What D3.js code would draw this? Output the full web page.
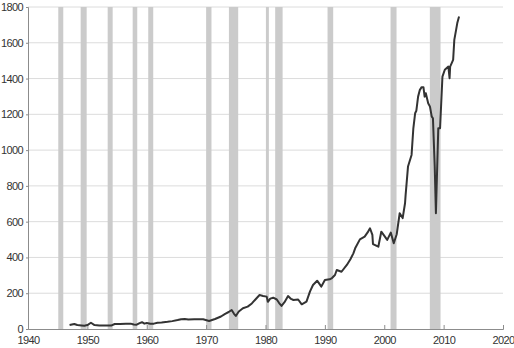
<!DOCTYPE html>
<html>
<head>
<meta charset="utf-8">
<script src="https://cdn.jsdelivr.net/npm/d3@7"></script>
<style>
  html, body { margin: 0; padding: 0; background: #fff; }
  svg text { font-family: "Liberation Sans", Arial, sans-serif; font-size: 11px; letter-spacing: -0.6px; fill: #333; }
</style>
</head>
<body>
<svg id="chart" width="514" height="348"></svg>
<script>
'use strict';

// recession periods (decimal years)
const recessionStart = [1945.1, 1948.87, 1953.42, 1957.63, 1960.25, 1970.0, 1973.84, 1980.07, 1981.63, 1990.45, 2001.06, 2007.68];
const recessionEnd   = [1945.94, 1949.88, 1954.26, 1958.4, 1961.09, 1970.9, 1975.4, 1980.57, 1982.88, 1991.4, 2002.07, 2009.48];

// series
const years = [
  1947.0, 1947.8, 1948.3, 1949.0, 1949.5, 1950.0, 1950.6, 1951.2, 1952.0, 1953.0,
  1954.0, 1954.6, 1955.5, 1956.5, 1957.3, 1957.8, 1958.3, 1958.8, 1959.2, 1959.6,
  1960.0, 1960.6, 1961.2, 1961.8, 1962.5, 1963.5, 1964.3, 1965.2, 1965.8, 1966.4,
  1967.0, 1968.0, 1969.5, 1970.5, 1971.5, 1972.5, 1973.2, 1973.8, 1974.3, 1974.7,
  1975.0, 1975.5, 1976.2, 1977.0, 1977.7, 1978.3, 1979.0, 1979.6, 1980.2, 1980.4,
  1980.8, 1981.3, 1981.9, 1982.3, 1982.7, 1983.2, 1983.8, 1984.3, 1984.7, 1985.5,
  1986.1, 1986.9, 1987.5, 1988.0, 1988.7, 1989.4, 1990.0, 1990.8, 1991.2, 1991.7,
  1992.0, 1992.8, 1993.7, 1994.3, 1994.8, 1995.1, 1995.9, 1996.7, 1997.2, 1997.6,
  1998.0, 1998.1, 1999.0, 1999.5, 1999.9, 2000.5, 2001.1, 2001.6, 2002.1, 2002.6,
  2003.1, 2003.5, 2003.6, 2004.0, 2004.6, 2004.9, 2005.2, 2005.4, 2005.7, 2006.0,
  2006.3, 2006.6, 2006.8, 2007.0, 2007.4, 2007.7, 2008.0, 2008.2, 2008.5, 2008.7,
  2009.1, 2009.4, 2009.5, 2009.8, 2010.2, 2010.8, 2011.0, 2011.1, 2011.6, 2011.8,
  2012.1, 2012.3, 2012.6
];
const values = [
  22, 28, 22, 20, 18, 22, 35, 22, 19, 19,
  19, 28, 28, 29, 30, 25, 24, 33, 38, 30,
  33, 29, 30, 35, 36, 40, 44, 50, 55, 56,
  53, 54, 54, 45, 56, 70, 85, 95, 106, 85,
  73, 98, 116, 125, 143, 165, 190, 185, 181, 152,
  170, 175, 165, 145, 129, 150, 184, 168, 162, 165,
  138, 153, 210, 246, 270, 237, 274, 278, 285, 302,
  330, 320, 358, 390, 423, 451, 501, 516, 540, 563,
  526, 475, 460, 544, 526, 498, 539, 479, 530, 647,
  620, 703, 750, 908, 973, 1122, 1206, 1220, 1299, 1337,
  1352, 1352, 1299, 1318, 1262, 1243, 1187, 1178, 908, 647,
  1122, 1122, 1195, 1411, 1449, 1467, 1402, 1467, 1504, 1616,
  1672, 1710, 1747
];

const xTicks = [1940, 1950, 1960, 1970, 1980, 1990, 2000, 2010, 2020];
const yTicks = [0, 200, 400, 600, 800, 1000, 1200, 1400, 1600, 1800];

const svg = d3.select("#chart");
const x = d3.scaleLinear().domain([1940, 2020]).range([28, 503]);
const y = d3.scaleLinear().domain([0, 1800]).range([329, 7]);

// gridlines
svg.append("g")
  .selectAll("line")
  .data(yTicks.slice(1))
  .join("line")
  .attr("x1", x(1940)).attr("x2", x(2020))
  .attr("y1", d => y(d)).attr("y2", d => y(d))
  .attr("stroke", "#dcdcdc")
  .attr("stroke-width", 1);

// recession bars
svg.append("g")
  .selectAll("rect")
  .data(recessionStart.map((s, i) => [s, recessionEnd[i]]))
  .join("rect")
  .attr("x", d => x(d[0]))
  .attr("width", d => x(d[1]) - x(d[0]))
  .attr("y", y(1800))
  .attr("height", y(0) - y(1800))
  .attr("fill", "#cbcbcb");

// y axis
const yAxis = svg.append("g")
  .attr("transform", `translate(${x(1940)},0)`)
  .call(d3.axisLeft(y).tickValues(yTicks).tickFormat(d3.format("d")).tickSize(2).tickPadding(3));
yAxis.select(".domain").attr("stroke", "#8c8c8c");
yAxis.selectAll(".tick line").attr("stroke", "#8c8c8c");
yAxis.selectAll("text").attr("fill", "#333").style("font-size", "11px");

// x axis
const xAxis = svg.append("g")
  .attr("transform", `translate(0,${y(0)})`)
  .call(d3.axisBottom(x).tickValues(xTicks).tickFormat(d3.format("d")).tickSize(-4).tickPadding(7));
xAxis.select(".domain").attr("stroke", "#8c8c8c");
xAxis.selectAll(".tick line").attr("stroke", "#8c8c8c");
xAxis.selectAll("text").attr("fill", "#333").style("font-size", "11px");

// series line
const line = d3.line()
  .x(d => x(d[0]))
  .y(d => y(d[1]));

svg.append("path")
  .datum(years.map((yr, i) => [yr, values[i]]))
  .attr("d", line)
  .attr("fill", "none")
  .attr("stroke", "#333")
  .attr("stroke-width", 2)
  .attr("stroke-linejoin", "round");
</script>
</body>
</html>
